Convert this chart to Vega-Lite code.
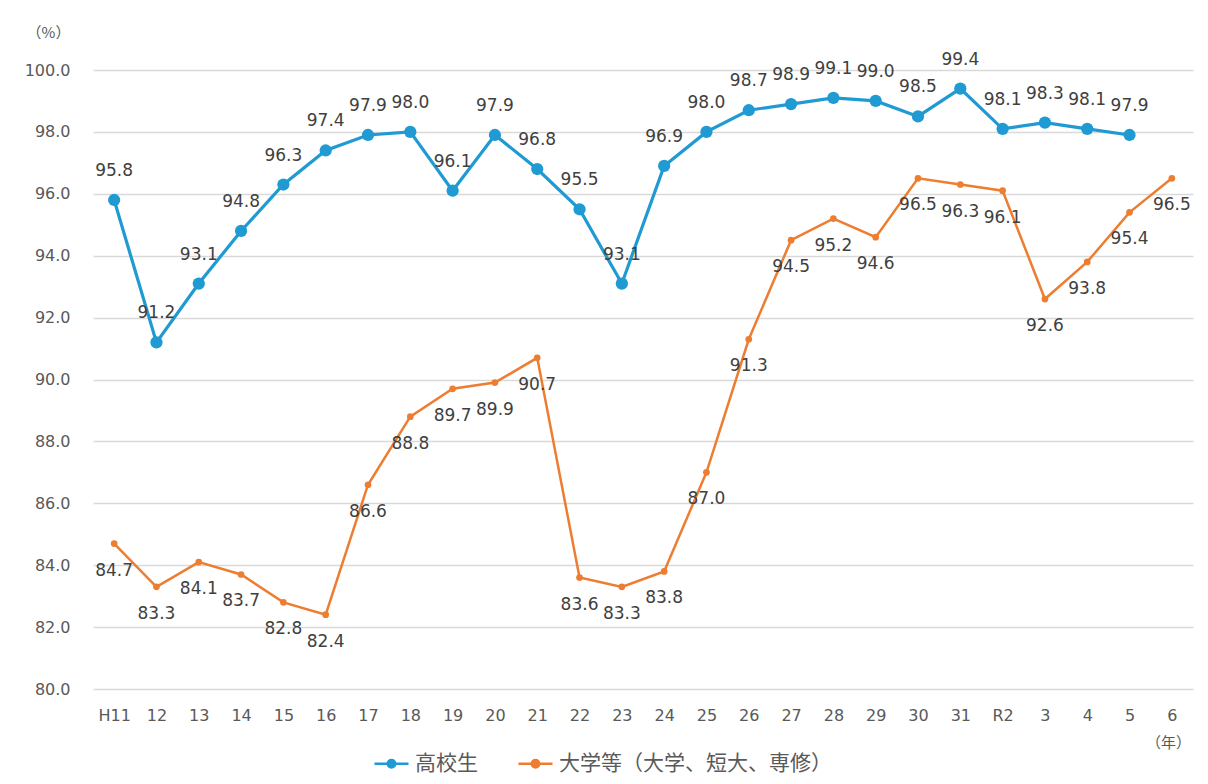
{
  "$schema": "https://vega.github.io/schema/vega-lite/v6.json",
  "autosize": {"type": "none"},
  "padding": {"left": 93, "top": 70, "right": 15, "bottom": 95},
  "width": 1100,
  "height": 619,
  "background": "white",
  "config": {
    "font": "DejaVu Sans",
    "view": {"stroke": null}
  },
  "data": {
    "values": [
      {"year": "H11", "series": "高校生", "value": 95.8},
      {"year": "12", "series": "高校生", "value": 91.2},
      {"year": "13", "series": "高校生", "value": 93.1},
      {"year": "14", "series": "高校生", "value": 94.8},
      {"year": "15", "series": "高校生", "value": 96.3},
      {"year": "16", "series": "高校生", "value": 97.4},
      {"year": "17", "series": "高校生", "value": 97.9},
      {"year": "18", "series": "高校生", "value": 98.0},
      {"year": "19", "series": "高校生", "value": 96.1},
      {"year": "20", "series": "高校生", "value": 97.9},
      {"year": "21", "series": "高校生", "value": 96.8},
      {"year": "22", "series": "高校生", "value": 95.5},
      {"year": "23", "series": "高校生", "value": 93.1},
      {"year": "24", "series": "高校生", "value": 96.9},
      {"year": "25", "series": "高校生", "value": 98.0},
      {"year": "26", "series": "高校生", "value": 98.7},
      {"year": "27", "series": "高校生", "value": 98.9},
      {"year": "28", "series": "高校生", "value": 99.1},
      {"year": "29", "series": "高校生", "value": 99.0},
      {"year": "30", "series": "高校生", "value": 98.5},
      {"year": "31", "series": "高校生", "value": 99.4},
      {"year": "R2", "series": "高校生", "value": 98.1},
      {"year": "3", "series": "高校生", "value": 98.3},
      {"year": "4", "series": "高校生", "value": 98.1},
      {"year": "5", "series": "高校生", "value": 97.9},
      {"year": "H11", "series": "大学等（大学、短大、専修）", "value": 84.7},
      {"year": "12", "series": "大学等（大学、短大、専修）", "value": 83.3},
      {"year": "13", "series": "大学等（大学、短大、専修）", "value": 84.1},
      {"year": "14", "series": "大学等（大学、短大、専修）", "value": 83.7},
      {"year": "15", "series": "大学等（大学、短大、専修）", "value": 82.8},
      {"year": "16", "series": "大学等（大学、短大、専修）", "value": 82.4},
      {"year": "17", "series": "大学等（大学、短大、専修）", "value": 86.6},
      {"year": "18", "series": "大学等（大学、短大、専修）", "value": 88.8},
      {"year": "19", "series": "大学等（大学、短大、専修）", "value": 89.7},
      {"year": "20", "series": "大学等（大学、短大、専修）", "value": 89.9},
      {"year": "21", "series": "大学等（大学、短大、専修）", "value": 90.7},
      {"year": "22", "series": "大学等（大学、短大、専修）", "value": 83.6},
      {"year": "23", "series": "大学等（大学、短大、専修）", "value": 83.3},
      {"year": "24", "series": "大学等（大学、短大、専修）", "value": 83.8},
      {"year": "25", "series": "大学等（大学、短大、専修）", "value": 87.0},
      {"year": "26", "series": "大学等（大学、短大、専修）", "value": 91.3},
      {"year": "27", "series": "大学等（大学、短大、専修）", "value": 94.5},
      {"year": "28", "series": "大学等（大学、短大、専修）", "value": 95.2},
      {"year": "29", "series": "大学等（大学、短大、専修）", "value": 94.6},
      {"year": "30", "series": "大学等（大学、短大、専修）", "value": 96.5},
      {"year": "31", "series": "大学等（大学、短大、専修）", "value": 96.3},
      {"year": "R2", "series": "大学等（大学、短大、専修）", "value": 96.1},
      {"year": "3", "series": "大学等（大学、短大、専修）", "value": 92.6},
      {"year": "4", "series": "大学等（大学、短大、専修）", "value": 93.8},
      {"year": "5", "series": "大学等（大学、短大、専修）", "value": 95.4},
      {"year": "6", "series": "大学等（大学、短大、専修）", "value": 96.5}
    ]
  },
  "encoding": {
    "x": {
      "field": "year", "type": "nominal", "sort": null,
      "scale": {"paddingInner": 0, "paddingOuter": 0},
      "axis": {
        "title": "（年）", "titleAngle": 0, "titleX": 1075, "titleY": 53,
        "titleAlign": "center", "titleBaseline": "middle", "titleFontSize": 15,
        "titleFont": "Noto Sans CJK JP",
        "titleFontWeight": "normal", "titleColor": "#595959",
        "labelAngle": 0, "labelFontSize": 16, "labelColor": "#595959",
        "labelPadding": 18, "domain": false, "ticks": false, "grid": false
      }
    },
    "y": {
      "field": "value", "type": "quantitative",
      "scale": {"domain": [80, 100], "nice": false, "zero": false},
      "axis": {
        "title": "（%）", "titleAngle": 0, "titleX": -45, "titleY": -38,
        "titleAlign": "center", "titleBaseline": "middle", "titleFontSize": 15,
        "titleFont": "Noto Sans CJK JP",
        "titleFontWeight": "normal", "titleColor": "#595959",
        "values": [80, 82, 84, 86, 88, 90, 92, 94, 96, 98, 100],
        "format": ".1f", "labelFontSize": 16, "labelColor": "#595959",
        "labelPadding": 23, "domain": false, "ticks": false,
        "gridColor": "#d9d9d9", "gridWidth": 1.5
      }
    },
    "color": {
      "field": "series", "type": "nominal",
      "scale": {"domain": ["高校生", "大学等（大学、短大、専修）"], "range": ["#1f9ad2", "#ed7d31"]},
      "legend": {
        "title": null, "orient": "none", "direction": "horizontal",
        "legendX": 280, "legendY": 675,
        "labelFont": "Noto Sans CJK JP", "labelLimit": 0,
        "labelFontSize": 21, "labelColor": "#595959", "columnPadding": 35,
        "symbolType": "M-1,0L1,0M-0.22,0A0.22,0.22 0 1,1 0.22,0A0.22,0.22 0 1,1 -0.22,0",
        "symbolSize": 1156, "symbolStrokeWidth": 2.5, "labelOffset": 5
      }
    }
  },
  "layer": [
    {
      "transform": [{"filter": "datum.series === '大学等（大学、短大、専修）'"}],
      "mark": {"type": "line", "strokeWidth": 2.5}
    },
    {
      "transform": [{"filter": "datum.series === '大学等（大学、短大、専修）'"}],
      "mark": {"type": "point", "filled": true, "shape": "circle", "size": 45, "opacity": 1}
    },
    {
      "transform": [{"filter": "datum.series === '高校生'"}],
      "mark": {"type": "line", "strokeWidth": 3.2}
    },
    {
      "transform": [{"filter": "datum.series === '高校生'"}],
      "mark": {"type": "point", "filled": true, "shape": "circle", "size": 150, "opacity": 1}
    },
    {
      "transform": [{"filter": "datum.series === '高校生'"}],
      "mark": {"type": "text", "dy": -29, "fontSize": 17, "baseline": "middle"},
      "encoding": {"text": {"field": "value", "type": "quantitative", "format": ".1f"}, "color": {"value": "#404040"}}
    },
    {
      "transform": [{"filter": "datum.series === '大学等（大学、短大、専修）'"}],
      "mark": {"type": "text", "dy": 27, "fontSize": 17, "baseline": "middle"},
      "encoding": {"text": {"field": "value", "type": "quantitative", "format": ".1f"}, "color": {"value": "#404040"}}
    }
  ]
}
